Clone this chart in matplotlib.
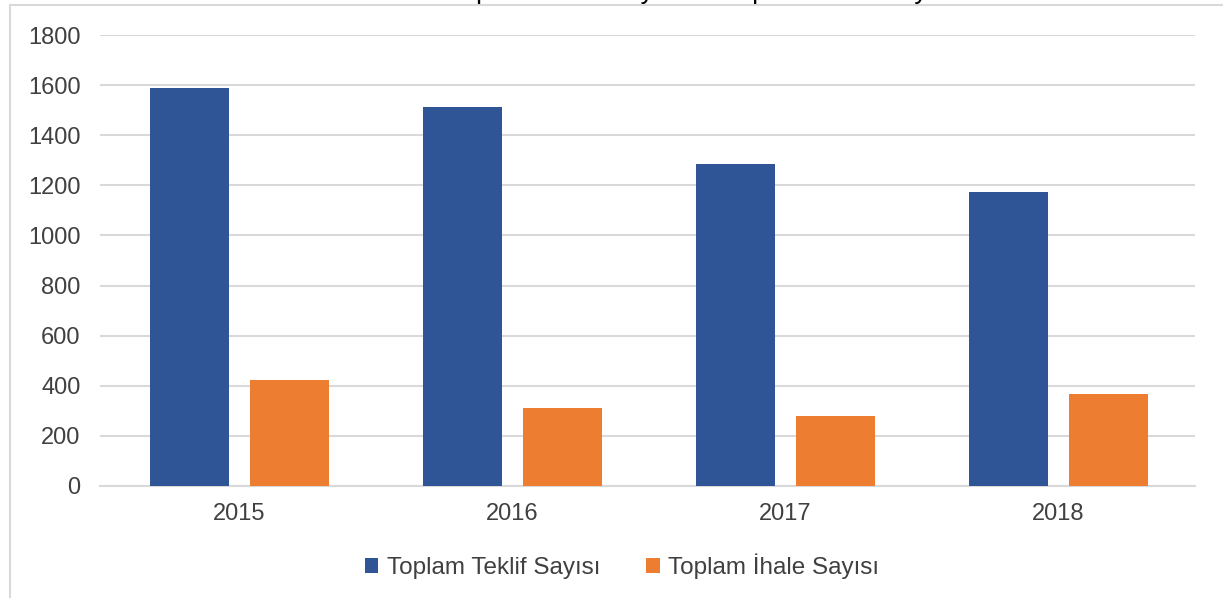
import matplotlib
matplotlib.use("Agg")
import matplotlib.pyplot as plt
from matplotlib.patches import Rectangle, Patch
import numpy as np

plt.rcParams['font.family'] = ['Liberation Sans', 'DejaVu Sans']

years = ["2015", "2016", "2017", "2018"]
teklif = [1588, 1512, 1285, 1173]
ihale = [423, 311, 279, 367]
series_names = ["Toplam Teklif Sayısı", "Toplam İhale Sayısı"]
title = "Toplam Teklif Sayısı ve Toplam İhale Sayısı"
yticks = [0, 200, 400, 600, 800, 1000, 1200, 1400, 1600, 1800]

blue = "#2F5597"
orange = "#ED7D31"
grid_c = "#D9D9D9"
text_c = "#404040"

fig = plt.figure(figsize=(12.23, 5.98), dpi=100)
W, H = 1223, 598

# outer chart border
fig.patches.append(Rectangle((10 / W, -0.1), 1.2, 1 - 5 / H + 0.1, transform=fig.transFigure,
                             fill=False, edgecolor=grid_c, linewidth=1.5, zorder=0))

# title (mostly cropped at the top, as in the reference)
fig.text(448 / W, 1 + 2 / H, title, fontsize=19.1, color="black", ha="left", va="baseline")

ax = fig.add_axes([100 / W, 1 - 486 / H, (1195 - 100) / W, (486 - 35) / H])
x = np.arange(len(years))
w = 0.29
off = 0.183
ax.bar(x - off, teklif, width=w, color=blue, zorder=3)
ax.bar(x + off, ihale, width=w, color=orange, zorder=3)

ax.set_xlim(-0.51, 3.5)
ax.set_ylim(0, 1800)
ax.set_yticks(yticks)
ax.set_yticklabels([str(v) for v in yticks])
ax.set_xticks(x)
ax.set_xticklabels(years)
ax.tick_params(axis='both', length=0, labelsize=17, labelcolor=text_c)
ax.tick_params(axis='y', pad=14)
ax.tick_params(axis='x', pad=12)
ax.yaxis.grid(True, color=grid_c, linewidth=1.5, zorder=0)
ax.set_axisbelow(True)
for s in ["top", "right", "left"]:
    ax.spines[s].set_visible(False)
ax.spines["bottom"].set_color(grid_c)
ax.spines["bottom"].set_linewidth(1.5)
ax.spines["bottom"].set_zorder(2)

handles = [Patch(facecolor=blue), Patch(facecolor=orange)]
fig.legend(handles, series_names, loc="center", bbox_to_anchor=(622 / W, 1 - 566 / H),
           ncol=2, frameon=False, fontsize=17.5, labelcolor=text_c,
           handlelength=0.55, handleheight=0.55, handletextpad=0.35, columnspacing=1.9)

fig.savefig("out.png", dpi=100)
